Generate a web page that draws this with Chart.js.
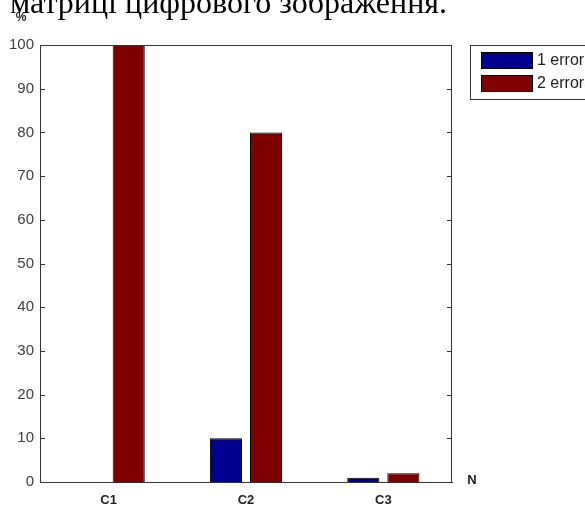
<!DOCTYPE html>
<html>
<head>
<meta charset="utf-8">
<script src="https://cdn.jsdelivr.net/npm/chart.js@4.4.1/dist/chart.umd.min.js"></script>
<style>
  html, body { margin: 0; padding: 0; background: #fff; }
  #wrap { width: 585px; height: 507px; position: relative; overflow: hidden; }
</style>
</head>
<body>
<div id="wrap"><canvas id="errors-chart"></canvas></div>
<script>
// Bars, in %
const categories = ['C1', 'C2', 'C3'];
const oneError = [0, 10, 1];
const twoErrors = [100, 80, 2];
const seriesNames = ['1 error', '2 errors'];
const seriesColors = ['#000090', '#7f0000'];
const yTicks = [0, 10, 20, 30, 40, 50, 60, 70, 80, 90, 100];

const axisColor = '#333333';

// frame, inward ticks, legend box and loose labels
const extras = {
    id: 'extras',
    afterDraw(chart) {
        const ctx = chart.ctx;
        const area = chart.chartArea;
        const y = chart.scales.y;
        ctx.save();

        // caption cut off at the top
        ctx.fillStyle = '#000';
        ctx.font = '32px "Liberation Serif"';
        ctx.textAlign = 'right';
        ctx.textBaseline = 'alphabetic';
        ctx.fillText('у матриці цифрового зображення.', 447, 13);

        // box round the plot
        ctx.strokeStyle = axisColor;
        ctx.lineWidth = 1;
        ctx.strokeRect(area.left + 0.5, area.top + 0.5, area.right - area.left - 1, area.bottom - area.top);

        // ticks pointing in, on both sides
        yTicks.forEach(v => {
            const py = Math.round(y.getPixelForValue(v)) + 0.5;
            ctx.beginPath();
            ctx.moveTo(area.left, py);
            ctx.lineTo(area.left + 5, py);
            ctx.moveTo(area.right, py);
            ctx.lineTo(area.right - 5, py);
            ctx.stroke();
        });

        // axis names
        ctx.fillStyle = '#222';
        ctx.textAlign = 'center';
        ctx.textBaseline = 'middle';
        ctx.font = 'bold 12px "Liberation Sans"';
        ctx.fillText('%', 21, 18);
        ctx.font = 'bold 13px "Liberation Sans"';
        ctx.fillText('N', 472, 480);

        // legend
        ctx.strokeStyle = axisColor;
        ctx.strokeRect(470.5, 45.5, 140, 54);
        ctx.font = '16px "Liberation Sans"';
        ctx.textAlign = 'left';
        chart.data.datasets.forEach((ds, i) => {
            const top = 52 + i * 23;
            ctx.fillStyle = ds.backgroundColor;
            ctx.fillRect(481, top, 52, 17);
            ctx.strokeStyle = '#000';
            ctx.strokeRect(481.5, top + 0.5, 51, 16);
            ctx.fillStyle = '#222';
            ctx.fillText(ds.label, 537, top + 9);
        });
        ctx.restore();
    }
};

const ctx1 = document.getElementById('errors-chart').getContext('2d');
const errorsChart = new Chart(ctx1, {
    type: 'bar',
    data: {
        labels: categories,
        datasets: [{
            label: seriesNames[0],
            data: oneError,
            backgroundColor: seriesColors[0],
            borderColor: '#000',
            borderWidth: 1
        }, {
            label: seriesNames[1],
            data: twoErrors,
            backgroundColor: seriesColors[1],
            borderColor: '#000',
            borderWidth: 1
        }]
    },
    options: {
        responsive: true,
        maintainAspectRatio: false,
        devicePixelRatio: 1,
        animation: false,
        layout: { padding: { top: 45, right: 133, left: 0, bottom: 0 } },
        plugins: {
            legend: { display: false },
            tooltip: { enabled: false }
        },
        datasets: {
            bar: { categoryPercentage: 0.584, barPercentage: 0.8 }
        },
        scales: {
            x: {
                grid: { display: false, drawTicks: false },
                border: { display: true, color: axisColor },
                ticks: {
                    color: '#222',
                    font: { family: 'Liberation Sans', size: 13, weight: 'bold' },
                    padding: 11
                },
                afterFit(scale) { scale.height = 25; }
            },
            y: {
                min: 0,
                max: 100,
                grid: { display: false, drawTicks: false },
                border: { display: true, color: axisColor },
                afterBuildTicks(scale) { scale.ticks = yTicks.map(v => ({ value: v })); },
                ticks: {
                    color: '#404040',
                    font: { family: 'Liberation Sans', size: 15 },
                    padding: 6
                },
                afterFit(scale) { scale.width = 40; }
            }
        }
    },
    plugins: [extras]
});
</script>
</body>
</html>
